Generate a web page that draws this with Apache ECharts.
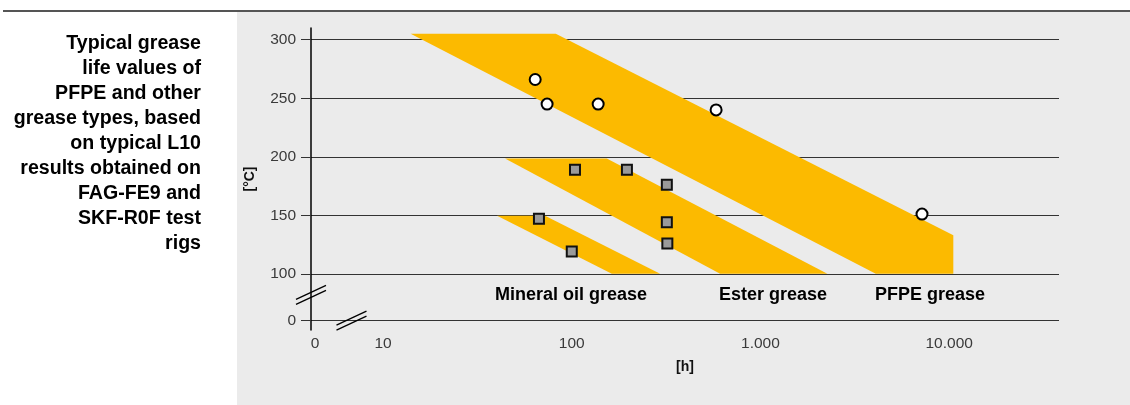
<!DOCTYPE html>
<html><head><meta charset="utf-8">
<script src="https://cdn.jsdelivr.net/npm/echarts@6/dist/echarts.min.js"></script>
<style>
html,body{margin:0;padding:0;background:#fff;}
#wrap{position:relative;width:1130px;height:405px;overflow:hidden;}
#topline{position:absolute;left:3px;top:10px;width:1127px;height:2px;background:#555;}
#panel{position:absolute;left:237px;top:12px;width:893px;height:393px;background:#ebebeb;}
#c{position:absolute;left:0;top:0;width:1130px;height:405px;}
</style>
</head><body>
<div id="wrap"><div id="topline"></div><div id="panel"></div><div id="c"></div></div>
<script>
// ---- data ----
const titleLines = ['Typical grease','life values of','PFPE and other','grease types, based','on typical L10','results obtained on','FAG-FE9 and','SKF-R0F test','rigs'];
const xTickValues = [4.36, 10, 100, 1000, 10000];
const xTickLabels = ['0','10','100','1.000','10.000'];
const yTickValues = [60, 100, 150, 200, 250, 300];
const yTickLabels = ['0','100','150','200','250','300'];
// band outlines [hours, °C]
const pfpeBand = [[14.0,305],[82.3,305],[10520,133],[10520,100],[4083,100]];
const esterBand = [[44.3,198.6],[153.3,198.6],[2262,100],[611,100]];
const mineralBand = [[40.2,149.7],[72.2,149.7],[294,100],[163,100]];
// measured results [hours, °C]
const pfpePoints = [[64,266],[74,245],[138,245],[582,240],[7180,151]];
const otherPoints = [[104,189],[196,189],[319,176],[67,147],[319,144],[100,119],[321,126]];
const greaseNames = ['Mineral oil grease','Ester grease','PFPE grease'];
const greaseLabelX = [39.2, 603, 4045];
const greaseLabelY = [82, 82, 82];

const FONT = "'Liberation Sans', Arial, Helvetica, sans-serif";
const bands = [pfpeBand, esterBand, mineralBand];

const chart = echarts.init(document.getElementById('c'), null, {renderer:'canvas'});

function xLabel(v){
  for (let i=0;i<xTickValues.length;i++){
    if (Math.abs(Math.log10(v)-Math.log10(xTickValues[i]))<0.01) return xTickLabels[i];
  }
  return '';
}
function yLabel(v){
  for (let i=0;i<yTickValues.length;i++){
    if (Math.abs(v-yTickValues[i])<0.01) return yTickLabels[i];
  }
  return '';
}

const option = {
  backgroundColor: 'transparent',
  animation: false,
  textStyle: {fontFamily: FONT},
  grid: {left: 311, right: 71, top: 28, bottom: 75},
  xAxis: {
    type: 'log', logBase: 10, min: 4.15, max: 38200,
    axisLine: {show: false}, axisTick: {show: false}, splitLine: {show: false},
    axisLabel: {customValues: xTickValues, formatter: xLabel, fontSize: 15.5, color: '#3a3a3a', margin: 6, fontFamily: FONT},
    name: '[h]', nameLocation: 'middle', nameGap: 30,
    nameTextStyle: {fontSize: 14, fontWeight: 'bold', color: '#111', fontFamily: FONT}
  },
  yAxis: {
    type: 'value', min: 52, max: 310,
    axisLine: {show: true, lineStyle: {color: '#000', width: 1.5}},
    axisTick: {show: true, customValues: yTickValues, length: 10, lineStyle: {color: '#333', width: 1}},
    axisLabel: {customValues: yTickValues, formatter: yLabel, fontSize: 15.5, color: '#3a3a3a', margin: 15, fontFamily: FONT},
    splitLine: {show: true, lineStyle: {color: '#333', width: 1}},
    name: '[°C]', nameLocation: 'middle', nameGap: 54,
    nameTextStyle: {fontSize: 14, fontWeight: 'bold', color: '#111', fontFamily: FONT}
  },
  series: [
    {
      type: 'custom', z: 2,
      data: bands.map((b, i) => [b[0][0], b[0][1], i]),
      encode: {x: 0, y: 1},
      renderItem: function(params, api){
        const band = bands[api.value(2)];
        const pts = band.map(p => api.coord(p));
        return {type: 'polygon', shape: {points: pts}, style: {fill: '#fcba00', stroke: null}};
      },
      silent: true
    },
    {
      type: 'scatter', z: 5, symbol: 'circle', symbolSize: 11,
      itemStyle: {color: '#fff', borderColor: '#000', borderWidth: 2, opacity: 1},
      data: pfpePoints
    },
    {
      type: 'scatter', z: 5, symbol: 'rect', symbolSize: 10,
      itemStyle: {color: '#9a9a9a', borderColor: '#111', borderWidth: 2, opacity: 1},
      data: otherPoints
    },
    {
      type: 'scatter', z: 6, symbolSize: 0,
      itemStyle: {opacity: 1},
      data: greaseNames.map((n, i) => ({name: n, value: [greaseLabelX[i], greaseLabelY[i]]})),
      label: {show: true, position: 'right', distance: 0, formatter: '{b}', fontSize: 18, fontWeight: 'bold', color: '#000', opacity: 1, fontFamily: FONT, verticalAlign: 'middle'},
      silent: true
    }
  ],
  graphic: [
    {type: 'text', x: 201, y: 31, style: {text: titleLines.join('\n'), align: 'right', verticalAlign: 'top', lineHeight: 25, font: 'bold 19.6px ' + FONT, fill: '#000'}}
  ]
};
chart.setOption(option);

// axis-break marks, positioned through the chart's own coordinate conversion
function breakMarks(){
  const yb = chart.convertToPixel({gridIndex: 0}, [4.15, 82]);
  const xb = chart.convertToPixel({gridIndex: 0}, [6.8, 60]);
  const els = [];
  [[yb[0], yb[1]], [xb[0], xb[1]]].forEach(c => {
    [-2.5, 2.5].forEach(off => {
      els.push({type: 'line', shape: {x1: c[0]-15, y1: c[1]+7+off, x2: c[0]+15, y2: c[1]-7+off}, style: {stroke: '#000', lineWidth: 1.3}, z: 10});
    });
  });
  chart.setOption({graphic: option.graphic.concat(els)});
}
breakMarks();
</script>
</body></html>
